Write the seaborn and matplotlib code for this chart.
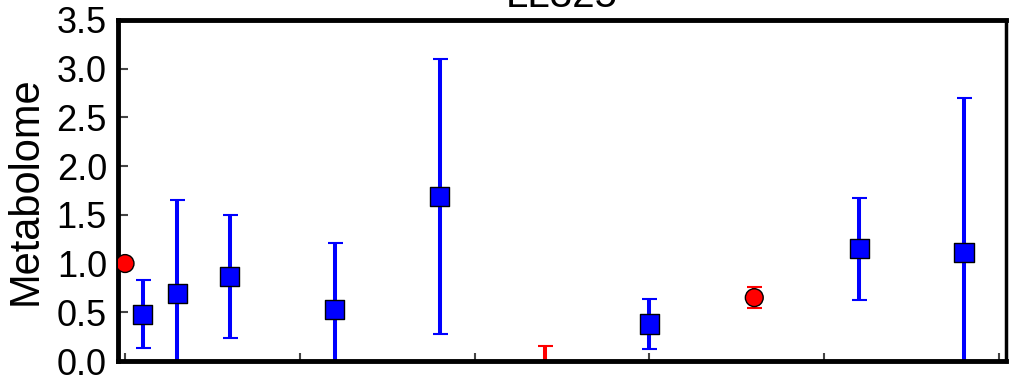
import matplotlib
matplotlib.use("Agg")
import matplotlib.pyplot as plt
import seaborn as sns
import pandas as pd

# =======================
# DATA
# =======================
TITLE = "LL325"
Y_LABEL = "Metabolome"

red_x = [0.0, 2.4, 3.6]
red_y = [1.0, -0.1, 0.65]
red_err = [0.0, 0.25, 0.11]

blue_x = [0.1, 0.3, 0.6, 1.2, 1.8, 3.0, 4.2, 4.8]
blue_y = [0.48, 0.69, 0.87, 0.53, 1.69, 0.38, 1.15, 1.11]
blue_err = [0.35, 0.96, 0.63, 0.68, 1.41, 0.26, 0.52, 1.59]

x_ticks = [0, 1, 2, 3, 4, 5]
y_ticks = [0.0, 0.5, 1.0, 1.5, 2.0, 2.5, 3.0, 3.5]


def main():
    sns.set_style("white")
    plt.rcParams["font.family"] = ["Liberation Sans", "DejaVu Sans"]
    plt.rcParams["text.color"] = "black"
    plt.rcParams["axes.labelcolor"] = "black"
    plt.rcParams["xtick.labelcolor"] = "black"
    plt.rcParams["ytick.labelcolor"] = "black"

    red = pd.DataFrame({"x": red_x, "y": red_y, "group": "red"})
    blue = pd.DataFrame({"x": blue_x, "y": blue_y, "group": "blue"})
    df = pd.concat([red, blue], ignore_index=True)

    fig = plt.figure(figsize=(10.09, 3.77), dpi=100)
    ax = fig.add_axes([0.117, 0.0424, 0.88, 0.905])

    # error bars first, markers on top
    ax.errorbar(red_x, red_y, yerr=red_err, fmt="none", ecolor="red",
                elinewidth=2.9, capsize=5.4, capthick=1.5, zorder=1)
    ax.errorbar(blue_x, blue_y, yerr=blue_err, fmt="none", ecolor="blue",
                elinewidth=2.9, capsize=5.4, capthick=1.5, zorder=1)

    sns.scatterplot(data=df, x="x", y="y", hue="group", style="group",
                    palette={"red": "red", "blue": "blue"},
                    markers={"red": "o", "blue": "s"},
                    size="group", sizes={"red": 165, "blue": 190},
                    edgecolor="black", linewidth=1.0, legend=False,
                    ax=ax, zorder=3)

    ax.set_xlim(-0.04, 5.04)
    ax.set_ylim(0, 3.5)
    ax.set_xticks(x_ticks)
    ax.set_yticks(y_ticks)
    ax.set_yticklabels([f"{v:.1f}" for v in y_ticks])
    ax.tick_params(axis="x", direction="in", length=6, width=1.5,
                   color="#444444", labelbottom=False, bottom=True)
    ax.tick_params(axis="y", direction="in", length=7, width=1.5,
                   color="#444444", labelsize=26, pad=8, left=True,
                   labelcolor="black")

    ax.set_xlabel("")
    ax.set_ylabel(Y_LABEL, fontsize=30, labelpad=8, color="black")
    ax.set_title(TITLE, fontsize=29, pad=9, color="black")

    for side in ["left", "bottom", "top"]:
        ax.spines[side].set_linewidth(3.5)
        ax.spines[side].set_color("black")
    ax.spines["right"].set_linewidth(2.5)
    ax.spines["right"].set_color("black")

    fig.savefig("out.png", dpi=100)
    plt.close(fig)


if __name__ == "__main__":
    main()
